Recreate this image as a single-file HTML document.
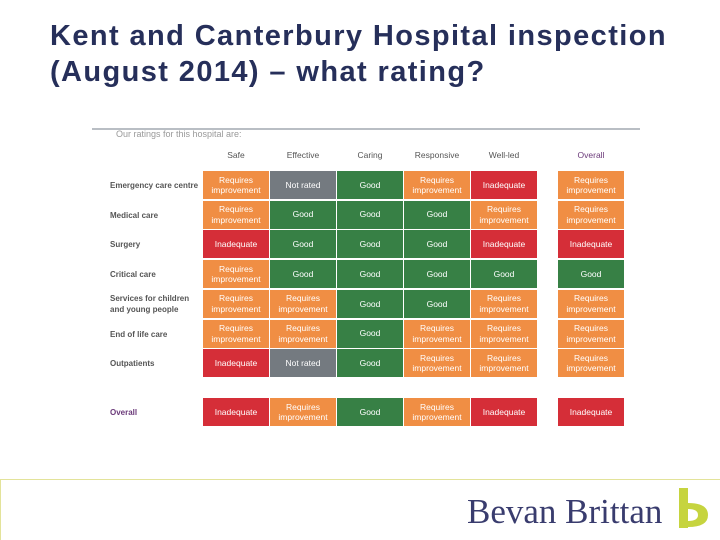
<!DOCTYPE html>
<html><head><meta charset="utf-8"><style>
body{margin:0;width:720px;height:540px;background:#fff;position:relative;overflow:hidden;font-family:"Liberation Sans",sans-serif}
.t{position:absolute;left:50px;top:18px;font-size:29px;font-weight:bold;letter-spacing:1.4px;line-height:36px;color:#262f5a;white-space:nowrap}
.cell{position:absolute;color:#fff;font-size:8.5px;line-height:10.5px;display:flex;align-items:center;justify-content:center;text-align:center;opacity:.95}
.lab{position:absolute;font-size:8px;color:#555;font-weight:bold;line-height:11px}
.hd{position:absolute;font-size:8.5px;color:#555;text-align:center;width:66px}
</style></head><body>
<div class="t">Kent and Canterbury Hospital inspection<br>(August 2014) – what rating?</div>
<div style="position:absolute;left:92px;top:128px;width:548px;height:2px;background:#b9bec4"></div>
<div style="position:absolute;left:116px;top:129px;font-size:9px;color:#999">Our ratings for this hospital are:</div>
<div id="grid"></div>
<div style="position:absolute;left:0;top:479px;width:720px;height:1px;background:#e3e39a"></div>
<div style="position:absolute;left:0;top:479px;width:1px;height:61px;background:#e3e39a"></div>
<div style="position:absolute;left:467px;top:492px;font-family:'Liberation Serif',serif;font-size:35px;color:#393c6e;letter-spacing:0px">Bevan Brittan</div>
<svg style="position:absolute;left:676px;top:487px" width="34" height="44"><rect x="3" y="1" width="9" height="40" fill="#c6d43f"/><path d="M12 16 Q32 16 32 28 Q32 40 12 40 Z M12 22 Q22 22 22 28 Q22 34 12 34Z" fill="#c6d43f" fill-rule="evenodd"/></svg>
<script>
const columns=["Safe","Effective","Caring","Responsive","Well-led","Overall"];
const rows=["Emergency care centre","Medical care","Surgery","Critical care","Services for children<br>and young people","End of life care","Outpatients","Overall"];
const ratings=[
["R","N","G","R","I","R"],
["R","G","G","G","R","R"],
["I","G","G","G","I","I"],
["R","G","G","G","G","G"],
["R","R","G","G","R","R"],
["R","R","G","R","R","R"],
["I","N","G","R","R","R"],
["I","R","G","R","I","I"]];
const colors={R:"#f0883a",G:"#2d7a3c",I:"#d3232e",N:"#6d737a"};
const texts={R:"Requires<br>improvement",G:"Good",I:"Inadequate",N:"Not rated"};
const g=document.getElementById('grid');
const colX=[203,270,337,404,471,558];
const rowY=i=>i<7?171+i*29.7:398;
columns.forEach((c,j)=>{const d=document.createElement('div');d.className='hd';d.style.left=colX[j]+'px';d.style.top='150px';d.innerHTML=c;if(j==5)d.style.color='#6b3a7a';


g.appendChild(d);});
rows.forEach((r,i)=>{const l=document.createElement('div');l.className='lab';l.style.left='110px';l.innerHTML=r;
const two=r.includes('<br>');l.style.top=(rowY(i)+(two?3:9))+'px';if(i==7)l.style.color='#6b3a7a';


g.appendChild(l);
ratings[i].forEach((v,j)=>{const d=document.createElement('div');d.className='cell';d.style.left=colX[j]+'px';d.style.top=rowY(i)+'px';d.style.width='66px';d.style.height='28px';d.style.background=colors[v];d.innerHTML=texts[v];


g.appendChild(d);});});
</script>
</body></html>
